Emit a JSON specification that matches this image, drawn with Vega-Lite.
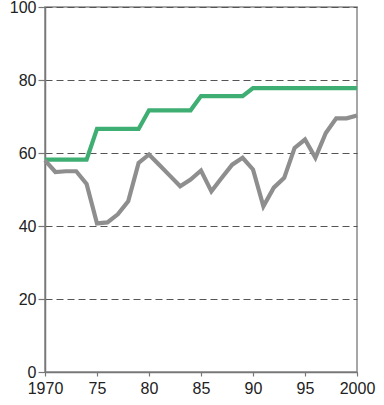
{
  "$schema": "https://vega.github.io/schema/vega-lite/v6.json",
  "width": 312,
  "height": 365,
  "autosize": {"type": "none"},
  "padding": {"left": 45, "top": 7, "right": 27, "bottom": 33},
  "background": "white",
  "config": {
    "view": {"stroke": "#8a8a8a", "strokeWidth": 1.5},
    "font": "Liberation Sans, Arial, sans-serif"
  },
  "data": {
    "values": [
      {"year": 1970, "series": "A", "value": 58.2},
      {"year": 1971, "series": "A", "value": 58.2},
      {"year": 1972, "series": "A", "value": 58.2},
      {"year": 1973, "series": "A", "value": 58.2},
      {"year": 1974, "series": "A", "value": 58.2},
      {"year": 1975, "series": "A", "value": 66.6},
      {"year": 1976, "series": "A", "value": 66.6},
      {"year": 1977, "series": "A", "value": 66.6},
      {"year": 1978, "series": "A", "value": 66.6},
      {"year": 1979, "series": "A", "value": 66.6},
      {"year": 1980, "series": "A", "value": 71.7},
      {"year": 1981, "series": "A", "value": 71.7},
      {"year": 1982, "series": "A", "value": 71.7},
      {"year": 1983, "series": "A", "value": 71.7},
      {"year": 1984, "series": "A", "value": 71.7},
      {"year": 1985, "series": "A", "value": 75.6},
      {"year": 1986, "series": "A", "value": 75.6},
      {"year": 1987, "series": "A", "value": 75.6},
      {"year": 1988, "series": "A", "value": 75.6},
      {"year": 1989, "series": "A", "value": 75.6},
      {"year": 1990, "series": "A", "value": 77.8},
      {"year": 1991, "series": "A", "value": 77.8},
      {"year": 1992, "series": "A", "value": 77.8},
      {"year": 1993, "series": "A", "value": 77.8},
      {"year": 1994, "series": "A", "value": 77.8},
      {"year": 1995, "series": "A", "value": 77.8},
      {"year": 1996, "series": "A", "value": 77.8},
      {"year": 1997, "series": "A", "value": 77.8},
      {"year": 1998, "series": "A", "value": 77.8},
      {"year": 1999, "series": "A", "value": 77.8},
      {"year": 2000, "series": "A", "value": 77.8},
      {"year": 1970, "series": "B", "value": 58.0},
      {"year": 1971, "series": "B", "value": 54.8},
      {"year": 1972, "series": "B", "value": 55.0},
      {"year": 1973, "series": "B", "value": 55.0},
      {"year": 1974, "series": "B", "value": 51.5},
      {"year": 1975, "series": "B", "value": 40.7},
      {"year": 1976, "series": "B", "value": 41.0},
      {"year": 1977, "series": "B", "value": 43.2},
      {"year": 1978, "series": "B", "value": 46.8},
      {"year": 1979, "series": "B", "value": 57.3},
      {"year": 1980, "series": "B", "value": 59.6},
      {"year": 1981, "series": "B", "value": 56.7},
      {"year": 1982, "series": "B", "value": 53.8},
      {"year": 1983, "series": "B", "value": 50.9},
      {"year": 1984, "series": "B", "value": 52.7},
      {"year": 1985, "series": "B", "value": 55.2},
      {"year": 1986, "series": "B", "value": 49.5},
      {"year": 1987, "series": "B", "value": 53.2},
      {"year": 1988, "series": "B", "value": 56.8},
      {"year": 1989, "series": "B", "value": 58.7},
      {"year": 1990, "series": "B", "value": 55.5},
      {"year": 1991, "series": "B", "value": 45.4},
      {"year": 1992, "series": "B", "value": 50.5},
      {"year": 1993, "series": "B", "value": 53.2},
      {"year": 1994, "series": "B", "value": 61.4},
      {"year": 1995, "series": "B", "value": 63.7},
      {"year": 1996, "series": "B", "value": 58.7},
      {"year": 1997, "series": "B", "value": 65.5},
      {"year": 1998, "series": "B", "value": 69.5},
      {"year": 1999, "series": "B", "value": 69.5},
      {"year": 2000, "series": "B", "value": 70.3}
    ]
  },
  "mark": {"type": "line", "strokeWidth": 4.2, "strokeJoin": "miter", "strokeCap": "butt"},
  "encoding": {
    "x": {
      "field": "year",
      "type": "quantitative",
      "scale": {"domain": [1970, 2000], "nice": false, "zero": false},
      "axis": {
        "title": null,
        "values": [1970, 1975, 1980, 1985, 1990, 1995, 2000],
        "labelExpr": "datum.value == 1970 || datum.value == 2000 ? datum.label : slice(toString(datum.value), 2)",
        "format": "d",
        "grid": false,
        "domainColor": "#777",
        "domainWidth": 1.5,
        "tickColor": "#777",
        "tickSize": 4,
        "tickWidth": 1.2,
        "labelFontSize": 16,
        "labelColor": "#222",
        "labelPadding": 4,
        "labelFlush": false
      }
    },
    "y": {
      "field": "value",
      "type": "quantitative",
      "scale": {"domain": [0, 100], "nice": false},
      "axis": {
        "title": null,
        "values": [0, 20, 40, 60, 80, 100],
        "gridColor": "#555",
        "gridDash": [7, 4],
        "gridWidth": 1,
        "domainColor": "#777",
        "domainWidth": 1.5,
        "tickColor": "#777",
        "tickSize": 7,
        "tickWidth": 1.2,
        "labelFontSize": 16,
        "labelColor": "#222",
        "labelPadding": 2
      }
    },
    "color": {
      "field": "series",
      "type": "nominal",
      "scale": {"domain": ["A", "B"], "range": ["#3fae73", "#8e8e8e"]},
      "legend": null
    },
    "order": {"field": "year"}
  }
}
